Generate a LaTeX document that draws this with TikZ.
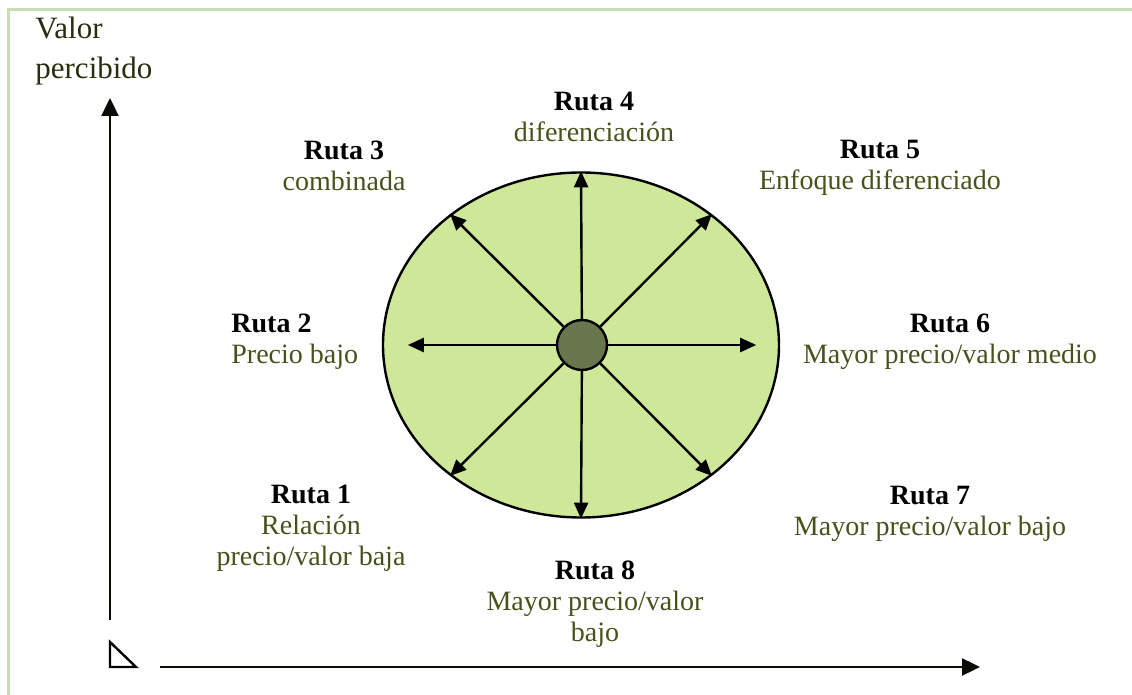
\documentclass[tikz,border=0pt]{standalone}
\usepackage{fontspec}
\setmainfont{Liberation Serif}
\usepackage{xcolor}
\usetikzlibrary{arrows.meta,shapes.geometric,positioning}
\definecolor{marco}{RGB}{200,221,180}
\definecolor{relleno}{RGB}{207,231,153}
\definecolor{nucleo}{RGB}{104,117,77}
\definecolor{texto}{RGB}{70,82,28}

\begin{document}
\begin{tikzpicture}[x=0.5pt,y=-0.5pt,
                    ruta node/.style={align=center,inner sep=0pt,text=texto,font=\fontsize{14}{15.5}\selectfont},
                    flecha/.style={line width=1.2pt,-{Triangle[length=8pt,width=7pt]}},
                    eje/.style={line width=1.2pt,draw=black!85!texto,-{Triangle[length=9pt,width=8.5pt]}}]

  \useasboundingbox (0,0) rectangle (1132,695);
  \draw[marco,line width=1.5pt] (8,695) -- (8,10) -- (1132,10);

  % rueda central
  \node[ellipse,draw,line width=1.2pt,fill=relleno,minimum width=198pt,minimum height=172.5pt,inner sep=0pt] (ruedo) at (581,345) {};
  \node[circle,draw,line width=1.2pt,fill=nucleo,minimum size=25pt,inner sep=0pt] (hub) at (582,345) {};

  \foreach \a in {45,90,135,225,270,315}
    \draw[flecha] (hub) -- (ruedo.\a);
  \draw[flecha,shorten >=13pt] (hub) -- (ruedo.west);
  \draw[flecha,shorten >=12pt] (hub) -- (ruedo.east);

  % rutas
  \node[ruta node] (r4) at (594,117) {{\color{black}\bfseries Ruta 4}\\diferenciación};
  \node[ruta node] (r3) at (344,166) {{\color{black}\bfseries Ruta 3}\\combinada};
  \node[ruta node] (r5) at (880,168) {{\color{black}\bfseries Ruta 5}\\Enfoque diferenciado};
  \node[ruta node,align=left,anchor=west] (r2) at (231,342) {{\color{black}\bfseries Ruta 2}\\Precio bajo};
  \node[ruta node] (r6) at (950,342) {{\color{black}\bfseries Ruta 6}\\Mayor precio/valor medio};
  \node[ruta node] (r1) at (311,528) {{\color{black}\bfseries Ruta 1}\\Relación\\precio/valor baja};
  \node[ruta node] (r7) at (930,514) {{\color{black}\bfseries Ruta 7}\\Mayor precio/valor bajo};
  \node[ruta node] (r8) at (595,604) {{\color{black}\bfseries Ruta 8}\\Mayor precio/valor\\bajo};

  % ejes
  \node[ruta node,align=left,anchor=north west,text=texto!55!black,font=\fontsize{15.5}{20}\selectfont] (valor) at (35,17) {Valor\\percibido};
  \coordinate (y0) at (110,620);
  \coordinate (y1) at (110,98);
  \coordinate (x0) at (160,667);
  \coordinate (x1) at (980,667);
  \draw[eje] (y0) -- (y1);
  \draw[eje] (x0) -- (x1);
  \draw[line width=1.2pt] (110,642) -- (110,667) -- (136,667) -- cycle;

\end{tikzpicture}
\end{document}
